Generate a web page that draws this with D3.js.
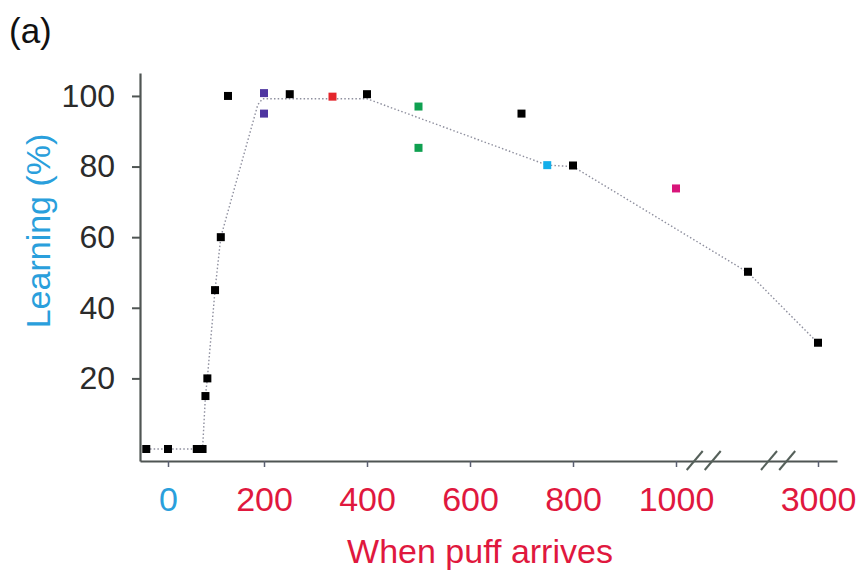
<!DOCTYPE html>
<html>
<head>
<meta charset="utf-8">
<script src="https://cdn.jsdelivr.net/npm/d3@7"></script>
<style>
  body { margin: 0; background: #fff; }
  svg { display: block; font-family: "Liberation Sans", Arial, Helvetica, sans-serif; }
</style>
</head>
<body>
<div id="chart"></div>
<script>
var w = 866;
var h = 578;

// puff arrival time (ms) and learning (%) for each marker
const pointTimes  = [-45, 0, 60, 72, 78, 82, 98, 110, 125, 200, 200, 250, 333, 400, 500, 500, 700, 750, 800, 1000, 2000, 3000];
const pointValues = [0, 0, 0, 0, 15, 20, 45, 60, 100, 100.8, 95, 100.5, 99.8, 100.5, 97, 85.3, 95, 80.4, 80.3, 73.8, 50.2, 30.1];
const pointColors = ["#000", "#000", "#000", "#000", "#000", "#000", "#000", "#000", "#000",
    "#4e35a0", "#4e35a0", "#000", "#e4262c", "#000", "#0fa050", "#0fa050", "#000", "#14aeea", "#000", "#d8157a", "#000", "#000"];

// dotted trend line through the means
const lineTimes  = [-45, 0, 72, 78, 82, 98, 110, 187, 197, 400, 750, 800, 2000, 3000];
const lineValues = [0, 0, 0, 15, 20, 45, 60, 97.5, 99.2, 99.2, 80.4, 80, 50, 30];

const xTicks = [0, 200, 400, 600, 800, 1000, 3000];
const yTicks = [20, 40, 60, 80, 100];
const axisBreaks = [1260, 1510, 2300, 2560];

const x = d3.scaleLinear()
    .domain([-58, 0, 200, 400, 600, 800, 1000, 2000, 3000, 3025])
    .range([140, 168, 264, 367, 470, 573, 676, 748, 818, 837]);

const y = d3.scaleLinear()
    .domain([-3.4, 106.5])
    .range([461, 73]);

const svg = d3.select("#chart").append("svg").attr("width", w).attr("height", h);

// panel letter
svg.append("text")
    .attr("x", 9)
    .attr("y", 43)
    .style("font-size", "35px")
    .style("fill", "#111")
    .text("(a)");

// y axis
const yAxis = svg.append("g")
    .attr("transform", "translate(" + x(-58) + ",0)")
    .call(d3.axisLeft(y).tickValues(yTicks).tickSize(8).tickSizeOuter(0).tickPadding(17));
yAxis.select(".domain").attr("stroke", "#4f5553").attr("stroke-width", 2.2);
yAxis.selectAll(".tick line").attr("stroke", "#4f5553").attr("stroke-width", 2);
yAxis.selectAll(".tick text")
    .style("font-size", "32px")
    .style("fill", "#2b2b2b")
    .attr("font-family", null);

// x axis
const xAxis = svg.append("g")
    .attr("transform", "translate(0," + y(-3.4) + ")")
    .call(d3.axisBottom(x).tickValues(xTicks).tickFormat(d3.format("d"))
        .tickSize(6).tickSizeOuter(0).tickPadding(20));
xAxis.select(".domain").attr("stroke", "#4f5553").attr("stroke-width", 2.2);
xAxis.selectAll(".tick line").attr("stroke", "#5a5f70").attr("stroke-width", 1.5);
xAxis.selectAll(".tick text")
    .style("font-size", "34px")
    .style("fill", d => d === 0 ? "#2a9fdc" : "#e0183e")
    .attr("font-family", null);

// axis break slashes
svg.selectAll("line.break")
    .data(axisBreaks)
    .enter()
    .append("line")
    .classed("break", true)
    .attr("x1", d => x(d) - 8)
    .attr("x2", d => x(d) + 8)
    .attr("y1", y(-3.4) + 9)
    .attr("y2", y(-3.4) - 10)
    .attr("stroke", "#55605a")
    .attr("stroke-width", 2);

// axis titles
svg.append("text")
    .attr("text-anchor", "middle")
    .attr("transform", "translate(50,231) rotate(-90)")
    .style("font-size", "34px")
    .style("fill", "#2a9fdc")
    .text("Learning (%)");

svg.append("text")
    .attr("x", 480)
    .attr("y", 563)
    .attr("text-anchor", "middle")
    .style("font-size", "34px")
    .style("fill", "#e0183e")
    .text("When puff arrives");

// trend line
const line = d3.line()
    .x(i => x(lineTimes[i]))
    .y(i => y(lineValues[i]));

svg.append("path")
    .attr("d", line(d3.range(lineTimes.length)))
    .attr("fill", "none")
    .attr("stroke", "#8e8f9e")
    .attr("stroke-width", 1.4)
    .attr("stroke-dasharray", "1.5,2.2");

// markers
const size = 8;
svg.selectAll("rect.pt")
    .data(d3.range(pointTimes.length))
    .enter()
    .append("rect")
    .classed("pt", true)
    .attr("x", i => x(pointTimes[i]) - size / 2)
    .attr("y", i => y(pointValues[i]) - size / 2)
    .attr("width", size)
    .attr("height", size)
    .attr("fill", i => pointColors[i]);
</script>
</body>
</html>
